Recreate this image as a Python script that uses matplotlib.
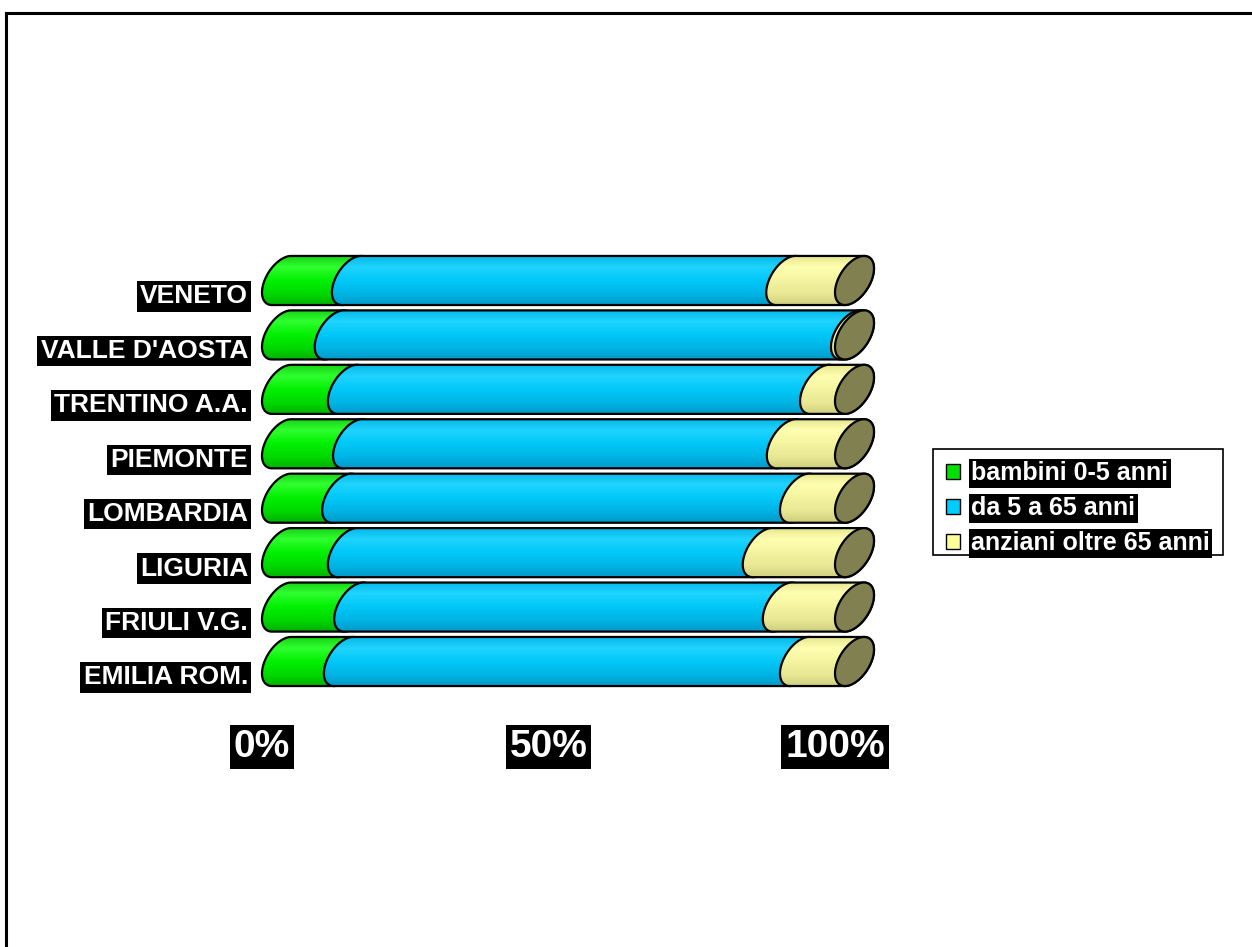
import numpy as np
import matplotlib
matplotlib.use('Agg')
import matplotlib.pyplot as plt
from matplotlib.path import Path
from matplotlib.patches import PathPatch, Patch, Rectangle
from matplotlib.colors import LinearSegmentedColormap
from matplotlib.lines import Line2D

plt.rcParams['font.family'] = ['Liberation Sans', 'DejaVu Sans']
plt.rcParams['font.weight'] = 'bold'

# regioni dall'alto verso il basso
regioni = ['VENETO', "VALLE D'AOSTA", 'TRENTINO A.A.', 'PIEMONTE',
           'LOMBARDIA', 'LIGURIA', 'FRIULI V.G.', 'EMILIA ROM.']
bambini = [12.2, 9.2, 11.5, 12.4, 10.5, 11.5, 12.6, 10.8]
adulti = [75.8, 90.1, 82.4, 75.7, 79.9, 72.4, 74.8, 79.6]
anziani = [12.0, 0.7, 6.1, 11.9, 9.6, 16.1, 12.6, 9.6]
serie = ['bambini 0-5 anni', 'da 5 a 65 anni', 'anziani oltre 65 anni']
tick_vals = [0, 50, 100]
tick_labels = ['0%', '50%', '100%']

# colori dei cilindri (dall'alto verso il basso)
sfumature = [
    ['#10c810', '#30ff30', '#00f000', '#00d800', '#00a800'],
    ['#00b0e0', '#20d4ff', '#00c8f8', '#00b4e4', '#0094c4'],
    ['#e0e088', '#ffffb0', '#f4f4a0', '#e8e894', '#c8c878'],
]
colori_legenda = ['#00e000', '#00ccff', '#ffff99']
colore_tappo = '#808050'

W, H = 1252, 947
fig = plt.figure(figsize=(W / 100, H / 100), dpi=100)
ax = fig.add_axes([0, 0, 1, 1])
ax.set_axis_off()

# scala: 0% -> pixel 262, 5.73 px per punto percentuale; barre distanziate 54.43 px
px_per_pct = 5.73
px_per_bar = 54.43
x_lim = ((0 - 262) / px_per_pct, (W - 262) / px_per_pct)
y_lim = (-285.5 / px_per_bar, (H - 285.5) / px_per_bar)

# ellisse delle basi del cilindro (in unita' dati)
a = 19.5 / px_per_pct        # semi-larghezza orizzontale
b = 12.0 / px_per_bar        # componente verticale della profondita'
R = 21.4 / px_per_bar        # raggio verticale
t_top = np.arctan2(R, b)


def punti_ellisse(xc, yc, t0, t1, n=60):
    t = np.linspace(t0, t1, n)
    return np.column_stack([xc + a * np.cos(t), yc + R * np.sin(t) + b * np.cos(t)])


def segmento(v0, v1, yc):
    # bordo sinistro (meta' sinistra dell'ellisse) + bordo destro (meta' destra)
    sx = punti_ellisse(v0 + a, yc, t_top, t_top + np.pi)
    dx = punti_ellisse(v1 + a, yc, t_top + np.pi, t_top + 2 * np.pi)
    verts = np.vstack([sx, dx, sx[:1]])
    codes = [Path.MOVETO] + [Path.LINETO] * (len(verts) - 2) + [Path.CLOSEPOLY]
    return Path(verts, codes)


semi_alt = np.sqrt(R ** 2 + b ** 2)
n = len(regioni)
for i, nome in enumerate(regioni):
    yc = n - 1 - i
    valori = [bambini[i], adulti[i], anziani[i]]
    inizio = 0.0
    for k, v in enumerate(valori):
        fine = inizio + v
        path = segmento(inizio, fine, yc)
        patch = PathPatch(path, facecolor='none', edgecolor='black', lw=1.6, zorder=3 + k)
        ax.add_patch(patch)
        cmap = LinearSegmentedColormap.from_list('c%d' % k, sfumature[k])
        grad = np.linspace(0, 1, 64).reshape(-1, 1)
        img = ax.imshow(grad, cmap=cmap, aspect='auto', interpolation='bilinear',
                        extent=[inizio - 1, fine + 3 * a, yc - semi_alt - 0.05, yc + semi_alt + 0.05],
                        origin='upper', zorder=2.5 + k)
        img.set_clip_path(patch)
        inizio = fine
    tappo = Path(punti_ellisse(inizio + a, yc, 0, 2 * np.pi, 120))
    ax.add_patch(PathPatch(tappo, facecolor=colore_tappo, edgecolor='black', lw=1.6, zorder=7))

    ax.text(-14 / px_per_pct, yc - 16 / px_per_bar, nome, ha='right', va='center',
            color='white', fontsize=19, fontweight='bold',
            bbox=dict(boxstyle='square,pad=0.12', facecolor='black', edgecolor='none'))

for v, lab in zip(tick_vals, tick_labels):
    ax.text(v, -1.57, lab, ha='center', va='center', color='white',
            fontsize=28, fontweight='bold',
            bbox=dict(boxstyle='square,pad=0.1', facecolor='black', edgecolor='none'))

ax.set_xlim(*x_lim)
ax.set_ylim(*y_lim)

# riquadro della legenda
ax.add_patch(Rectangle((933 / W, 1 - 555 / H), 290 / W, 106 / H, transform=fig.transFigure,
                       facecolor='white', edgecolor='black', lw=1.2, zorder=8))

handles = [Patch(facecolor=c, edgecolor='black', lw=1) for c in colori_legenda]
leg = ax.legend(handles, serie, loc='upper left', bbox_to_anchor=(946 / W, 1 - 461 / H),
                bbox_transform=fig.transFigure, frameon=False,
                fontsize=18, handlelength=0.55, handleheight=0.55,
                handletextpad=0.45, labelspacing=0.44, borderpad=0.0, borderaxespad=0)
leg.set_zorder(9)
for t in leg.get_texts():
    t.set_color('white')
    t.set_fontweight('bold')
    t.set_bbox(dict(boxstyle='square,pad=0.1', facecolor='black', edgecolor='none'))

# cornice
fig.add_artist(Line2D([6 / W, 6 / W], [0, 1 - 13 / H], color='black', lw=2.2))
fig.add_artist(Line2D([6 / W, 1], [1 - 13 / H, 1 - 13 / H], color='black', lw=2.2))

fig.savefig('out.png', dpi=100)
